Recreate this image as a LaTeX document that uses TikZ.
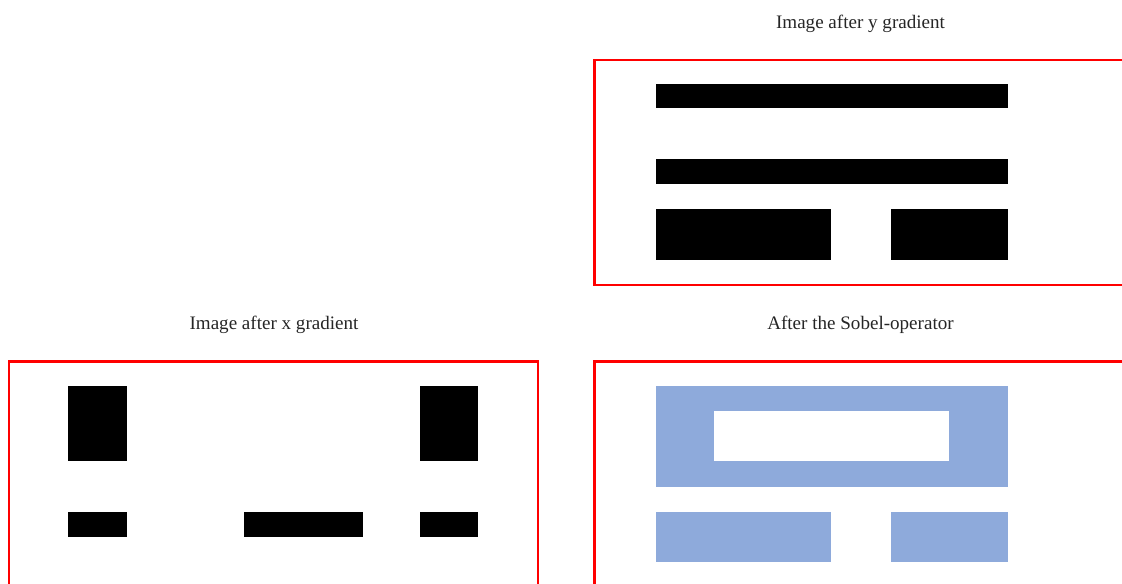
\documentclass[tikz,border=0pt]{standalone}
\usepackage{fontspec}
\setmainfont{Liberation Serif}
\definecolor{frred}{HTML}{FF0000}
\definecolor{sobelblue}{HTML}{8EAADB}
\begin{document}
\begin{tikzpicture}[x=0.75pt,y=-0.75pt,
  frame/.style={draw=frred,line width=1.6pt},
  blk/.style={fill=black},
  sob/.style={fill=sobelblue},
  hole/.style={fill=white},
  title/.style={anchor=base,inner sep=0pt,font=\fontsize{14.3}{17}\selectfont,text=black!85}]
\useasboundingbox (0,0) rectangle (1122,584);
\clip (0,0) rectangle (1122,584);
% --- top right: y gradient
\node[title] (ty) at (860.5,28.5) {Image after y gradient};
\draw[frame] (594.5,60) rectangle (1135,285);
\fill[blk] (656,84) rectangle (1007.5,108.5);
\fill[blk] (656,159.5) rectangle (1007.5,184.5);
\fill[blk] (656,209.5) rectangle (831,260);
\fill[blk] (890.5,209.5) rectangle (1007.5,260);
% --- bottom left: x gradient
\node[title] (tx) at (274,330) {Image after x gradient};
\draw[frame] (9,361.5) rectangle (538,600);
\fill[blk] (68,386) rectangle (127,461.5);
\fill[blk] (420,386) rectangle (478,461.5);
\fill[blk] (68,512) rectangle (127,537);
\fill[blk] (244,512) rectangle (362.5,537);
\fill[blk] (420,512) rectangle (478,537);
% --- bottom right: Sobel
\node[title] (ts) at (860.5,330) {After the Sobel-operator};
\draw[frame] (594.5,361.5) rectangle (1135,600);
\fill[sob] (656,386) rectangle (1007.5,487);
\fill[hole] (714,411.5) rectangle (949,461.5);
\fill[sob] (656,512) rectangle (831,562);
\fill[sob] (890.5,512) rectangle (1007.5,562);
\end{tikzpicture}
\end{document}
